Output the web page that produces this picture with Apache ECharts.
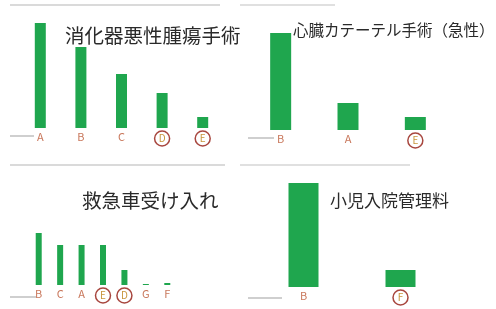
<!DOCTYPE html>
<html>
<head>
<meta charset="utf-8">
<script src="https://cdn.jsdelivr.net/npm/echarts@6/dist/echarts.min.js"></script>
<style>
  html, body { margin: 0; padding: 0; background: #fff; }
  #main { width: 496px; height: 309px; }
</style>
</head>
<body>
<div id="main"></div>
<script>
// 各パネルのデータ
const titles = ['消化器悪性腫瘍手術', '心臓カテーテル手術（急性）', '救急車受け入れ', '小児入院管理料'];
const cat1 = ['A', 'B', 'C', 'D', 'E'];
const val1 = [105, 81, 54, 35, 11];
const circ1 = ['D', 'E'];
const cat2 = ['B', 'A', 'E'];
const val2 = [97, 27, 13];
const circ2 = ['E'];
const cat3 = ['B', 'C', 'A', 'E', 'D', 'G', 'F'];
const val3 = [52, 40, 40, 40, 15, 1, 2];
const circ3 = ['E', 'D'];
const cat4 = ['B', 'F'];
const val4 = [104, 17];
const circ4 = ['F'];

const green = '#1fa64e';
const font = '"Noto Sans CJK JP", "Noto Sans", sans-serif';

// パネル配置
const panels = [
  { cats: cat1, vals: val1, circ: circ1, grid: { left: 20, width: 203, bottom: 181, height: 110 }, barWidth: 11 },
  { cats: cat2, vals: val2, circ: circ2, grid: { left: 247, width: 202, bottom: 179, height: 110 }, barWidth: 21 },
  { cats: cat3, vals: val3, circ: circ3, grid: { left: 28, width: 150, bottom: 24, height: 110 }, barWidth: 6 },
  { cats: cat4, vals: val4, circ: circ4, grid: { left: 255, width: 194, bottom: 22, height: 110 }, barWidth: 30 }
];

let chart = echarts.init(document.getElementById('main'));

let option = {
  animation: false,
  backgroundColor: '#fff',
  title: [
    { text: titles[0], left: 60, top: 21, textStyle: { fontSize: 19.5, fontWeight: 'normal', color: '#2a2a2a', fontFamily: font } },
    { text: titles[1], left: 288, top: 17, textStyle: { fontSize: 15.5, fontWeight: 'normal', color: '#2a2a2a', fontFamily: font } },
    { text: titles[2], left: 77, top: 186, textStyle: { fontSize: 19.5, fontWeight: 'normal', color: '#2a2a2a', fontFamily: font } },
    { text: titles[3], left: 325, top: 187, textStyle: { fontSize: 17, fontWeight: 'normal', color: '#2a2a2a', fontFamily: font } }
  ],
  grid: [],
  xAxis: [],
  yAxis: [],
  series: [],
  graphic: [
    // ぼやけた見出し行
    { type: 'rect', shape: { x: 10, y: 4, width: 210, height: 2 }, style: { fill: '#dadada' } },
    { type: 'rect', shape: { x: 240, y: 4, width: 95, height: 2 }, style: { fill: '#e0e0e0' } },
    { type: 'rect', shape: { x: 10, y: 164, width: 215, height: 2 }, style: { fill: '#dadada' } },
    { type: 'rect', shape: { x: 240, y: 164, width: 170, height: 2 }, style: { fill: '#e0e0e0' } },
    // 軸左の小さな文字
    { type: 'rect', shape: { x: 10, y: 135, width: 24, height: 2 }, style: { fill: '#cfcfcf' } },
    { type: 'rect', shape: { x: 248, y: 137, width: 26, height: 2 }, style: { fill: '#cfcfcf' } },
    { type: 'rect', shape: { x: 10, y: 296, width: 26, height: 2 }, style: { fill: '#cfcfcf' } },
    { type: 'rect', shape: { x: 248, y: 297, width: 34, height: 2 }, style: { fill: '#cfcfcf' } }
  ]
};

panels.forEach((p, i) => {
  option.grid.push(p.grid);
  option.xAxis.push({
    type: 'category',
    gridIndex: i,
    data: p.cats,
    axisLine: { show: false },
    axisTick: { show: false },
    axisLabel: {
      interval: 0,
      margin: 3,
      fontSize: 11,
      color: '#c9785c',
      fontFamily: font,
      formatter: (v) => p.circ.indexOf(v) >= 0 ? '{c|' + v + '}' : v,
      rich: {
        c: {
          color: '#c9963e',
          fontSize: 10,
          width: 15,
          height: 15,
          lineHeight: 15,
          align: 'center',
          borderColor: '#a8473f',
          borderWidth: 1.5,
          borderRadius: 8
        }
      }
    }
  });
  option.yAxis.push({
    type: 'value',
    gridIndex: i,
    min: 0,
    max: 110,
    show: false
  });
  option.series.push({
    type: 'bar',
    xAxisIndex: i,
    yAxisIndex: i,
    data: p.vals,
    barWidth: p.barWidth,
    itemStyle: { color: green }
  });
});

chart.setOption(option);
</script>
</body>
</html>
